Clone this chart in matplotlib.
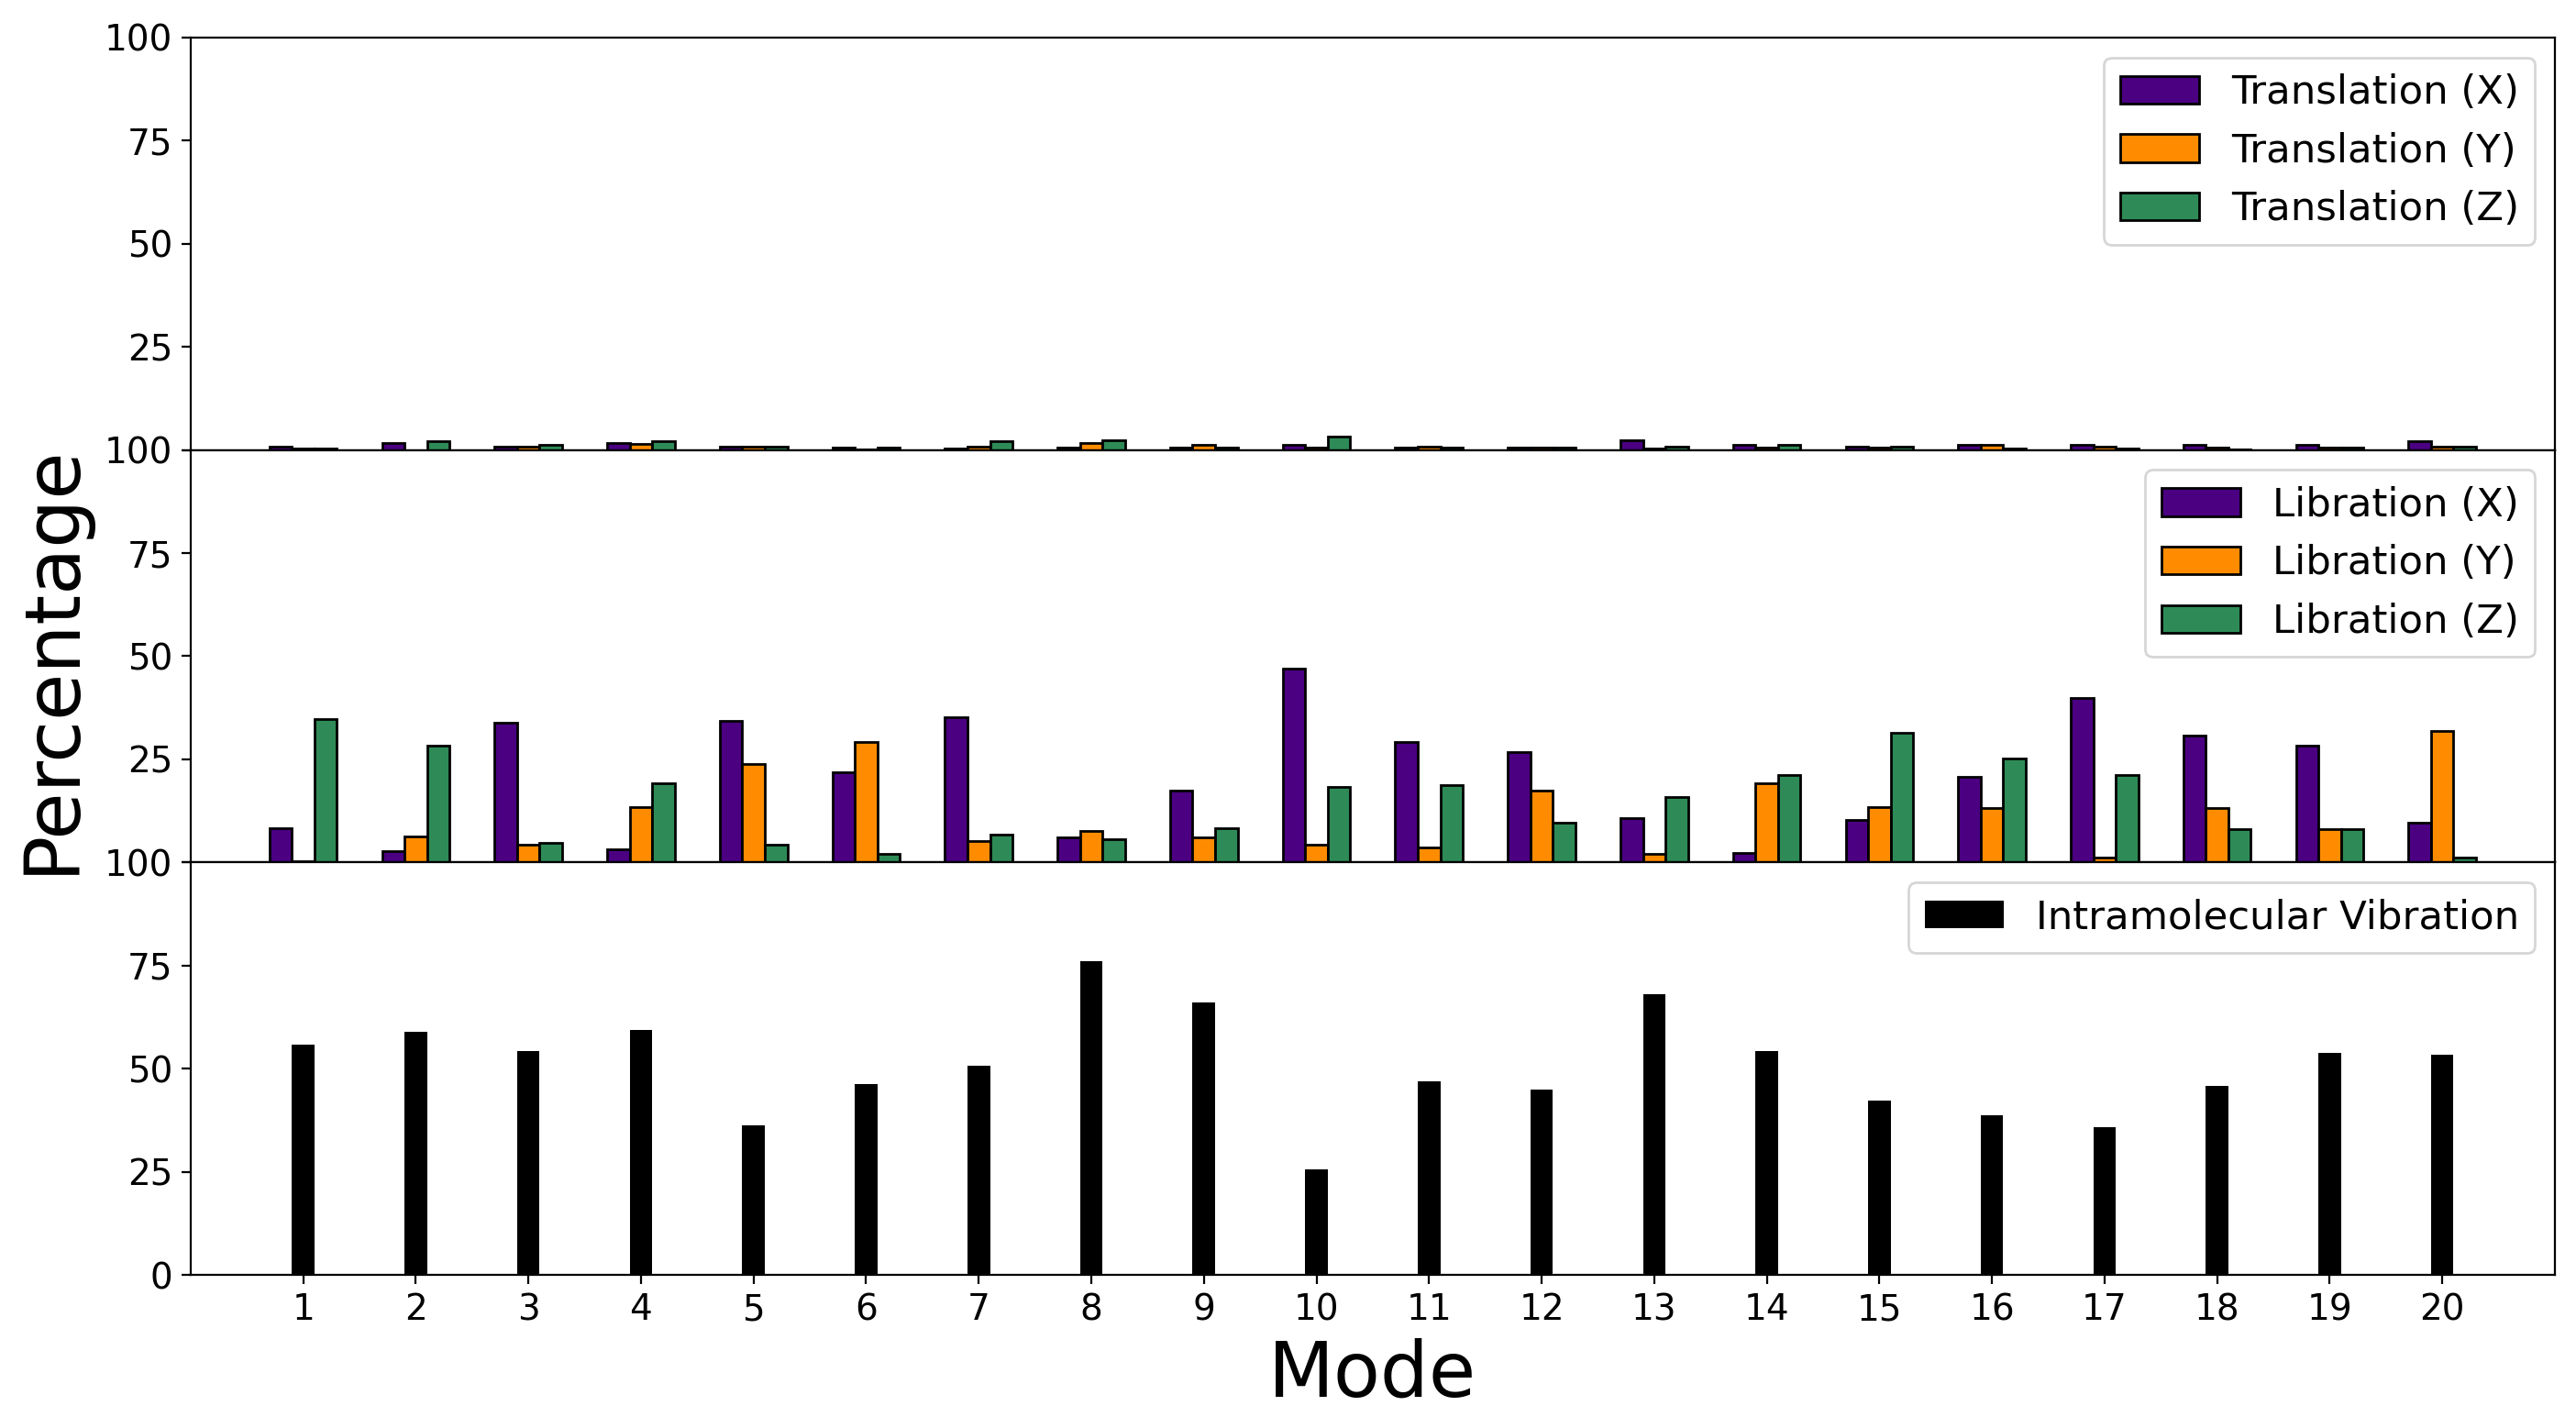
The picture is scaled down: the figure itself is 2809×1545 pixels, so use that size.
import numpy as np
import matplotlib
matplotlib.use("Agg")
import matplotlib.pyplot as plt

plt.rcParams.update({
    "font.family": "DejaVu Sans",
    "xtick.labelsize": 14,
    "ytick.labelsize": 14,
    "legend.fontsize": 15.6,
})

modes = np.arange(1, 21)

trans_x = [0.8, 1.7, 0.8, 1.6, 0.9, 0.6, 0.3, 0.6, 0.6, 1.3,
           0.6, 0.6, 2.4, 1.3, 0.8, 1.3, 1.3, 1.3, 1.3, 2.1]
trans_y = [0.3, 0.0, 0.7, 1.5, 0.7, 0.2, 0.7, 1.7, 1.3, 0.6,
           0.8, 0.6, 0.3, 0.6, 0.6, 1.3, 0.8, 0.6, 0.6, 0.7]
trans_z = [0.3, 2.1, 1.3, 2.1, 0.7, 0.6, 2.1, 2.4, 0.6, 3.3,
           0.6, 0.6, 0.9, 1.3, 0.8, 0.3, 0.3, 0.2, 0.6, 0.8]

lib_x = [8.4, 2.8, 33.9, 3.2, 34.3, 21.9, 35.1, 6.0, 17.5, 47.0,
         29.1, 26.7, 10.8, 2.4, 10.4, 20.7, 39.8, 30.7, 28.3, 9.6]
lib_y = [0.3, 6.4, 4.4, 13.5, 23.9, 29.1, 5.2, 7.6, 6.0, 4.4,
         3.6, 17.5, 2.0, 19.1, 13.5, 13.1, 1.2, 13.1, 8.0, 31.9]
lib_z = [34.7, 28.3, 4.8, 19.1, 4.4, 2.0, 6.8, 5.6, 8.4, 18.3,
         18.7, 9.6, 15.9, 21.1, 31.5, 25.1, 21.1, 8.0, 8.0, 1.2]

vib = [55.8, 59.0, 54.2, 59.4, 36.3, 46.2, 50.6, 76.1, 66.1, 25.5,
       47.0, 45.0, 68.1, 54.2, 42.2, 38.6, 35.9, 45.8, 53.8, 53.4]

colors = ["#4B0082", "#FF8C00", "#2E8B57"]
w = 0.2

fig, axes = plt.subplots(3, 1, figsize=(14.045, 7.725), dpi=200, sharex=True)
fig.subplots_adjust(left=0.074, right=0.9918, top=0.9735, bottom=0.1003, hspace=0)

ax = axes[0]
for k, (vals, lab) in enumerate(zip([trans_x, trans_y, trans_z],
                                    ["Translation (X)", "Translation (Y)", "Translation (Z)"])):
    ax.bar(modes + (k - 1) * w, vals, w, color=colors[k], edgecolor="black", label=lab)
ax.legend(loc="upper right")

ax = axes[1]
for k, (vals, lab) in enumerate(zip([lib_x, lib_y, lib_z],
                                    ["Libration (X)", "Libration (Y)", "Libration (Z)"])):
    ax.bar(modes + (k - 1) * w, vals, w, color=colors[k], edgecolor="black", label=lab)
ax.legend(loc="upper right")

ax = axes[2]
ax.bar(modes, vib, w, color="black", label="Intramolecular Vibration")
ax.legend(loc="upper right")

for ax in axes:
    ax.set_ylim(0, 100)
    ax.set_yticks([0, 25, 50, 75, 100])
axes[0].set_yticklabels(["", "25", "50", "75", "100"])
axes[1].set_yticklabels(["", "25", "50", "75", "100"])

axes[2].set_xlim(0, 21)
axes[2].set_xticks(modes)
axes[2].set_xlabel("Mode", fontsize=30)
fig.text(0.02, 0.535, "Percentage", rotation=90, fontsize=30, ha="center", va="center")

fig.savefig("out.png")
